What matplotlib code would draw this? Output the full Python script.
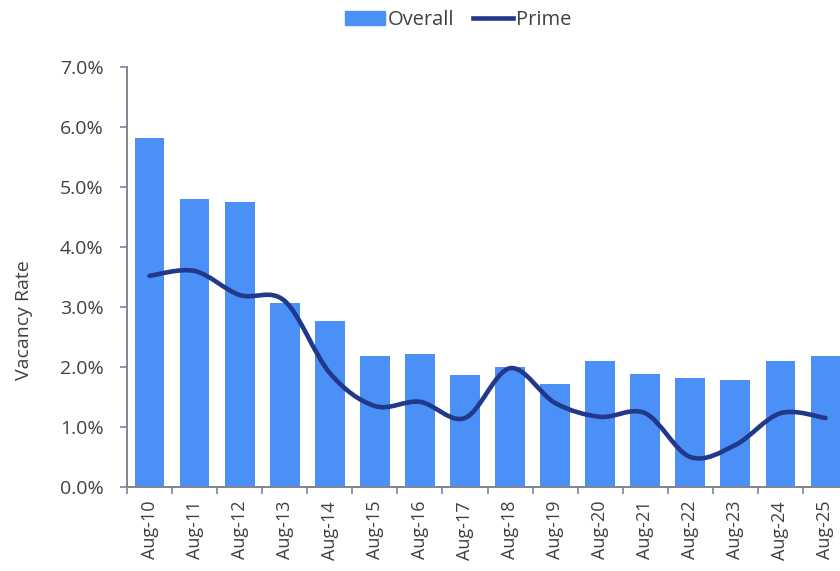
import numpy as np
import matplotlib
matplotlib.use("Agg")
import matplotlib.pyplot as plt
from matplotlib.path import Path
from matplotlib.patches import PathPatch
from matplotlib.lines import Line2D
from matplotlib.patches import Patch
from matplotlib.ticker import FuncFormatter, FixedLocator

labels = ["Aug-10", "Aug-11", "Aug-12", "Aug-13", "Aug-14", "Aug-15", "Aug-16", "Aug-17",
          "Aug-18", "Aug-19", "Aug-20", "Aug-21", "Aug-22", "Aug-23", "Aug-24", "Aug-25"]
overall = [5.82, 4.80, 4.75, 3.07, 2.76, 2.18, 2.22, 1.87,
           2.00, 1.71, 2.10, 1.89, 1.82, 1.78, 2.10, 2.18]
prime = [3.52, 3.60, 3.20, 3.10, 1.90, 1.35, 1.42, 1.15,
         1.98, 1.40, 1.17, 1.23, 0.50, 0.70, 1.23, 1.15]

bar_color = "#4a90f7"
line_color = "#22388a"
text_color = "#404040"
axis_color = "#7f8490"

plt.rcParams['font.family'] = ['Open Sans', 'DejaVu Sans']

fig = plt.figure(figsize=(8.4, 5.71), dpi=100)
ax = fig.add_axes([127 / 840, 1 - 487 / 571, 721 / 840, 420 / 571])

x = np.arange(len(labels))
ax.bar(x, overall, width=0.66, color=bar_color, zorder=2)

# smoothed line (Excel style) drawn as a bezier path through the data points
pts = np.column_stack([x, prime])
verts = [tuple(pts[0])]
codes = [Path.MOVETO]
t = 1 / 6
for i in range(len(pts) - 1):
    p0 = pts[i - 1] if i > 0 else pts[i]
    p1 = pts[i]
    p2 = pts[i + 1]
    p3 = pts[i + 2] if i + 2 < len(pts) else pts[i + 1]
    c1 = p1 + (p2 - p0) * t
    c2 = p2 - (p3 - p1) * t
    verts += [tuple(c1), tuple(c2), tuple(p2)]
    codes += [Path.CURVE4] * 3
ax.add_patch(PathPatch(Path(verts, codes), facecolor="none", edgecolor=line_color,
                       lw=3.3, capstyle="round", joinstyle="round", zorder=3))

ax.set_xlim(-0.5, len(labels) - 0.5)
ax.set_ylim(0, 7)
ax.yaxis.set_major_locator(FixedLocator(np.arange(0, 7.01, 1)))
ax.yaxis.set_major_formatter(FuncFormatter(lambda v, p: f"{v:.1f}%"))

ax.set_xticks(x)
ax.set_xticklabels(labels, rotation=90, fontsize=13, color=text_color)
ax.xaxis.set_minor_locator(FixedLocator(np.arange(-0.5, len(labels), 1)))
ax.tick_params(axis="x", which="major", length=0, pad=10)
ax.tick_params(axis="x", which="minor", length=5, color=axis_color, width=1.2, direction="out")
ax.tick_params(axis="y", length=5, color=axis_color, width=1.2, labelsize=14,
               labelcolor=text_color, pad=12)

for s in ["top", "right"]:
    ax.spines[s].set_visible(False)
for s in ["left", "bottom"]:
    ax.spines[s].set_color(axis_color)
    ax.spines[s].set_linewidth(1.4)

fig.text(24 / 840, 1 - 320 / 571, "Vacancy Rate", rotation=90, ha="center", va="center",
         fontsize=14, color=text_color)

handles = [Patch(color=bar_color), Line2D([], [], color=line_color, lw=3.3)]
fig.legend(handles, ["Overall", "Prime"], loc="center", bbox_to_anchor=(458 / 840, 1 - 20 / 571),
           ncol=2, frameon=False, fontsize=14.5, handlelength=2.0, handletextpad=0.15,
           columnspacing=0.9, labelcolor=text_color)

fig.savefig("out.png", dpi=100)
